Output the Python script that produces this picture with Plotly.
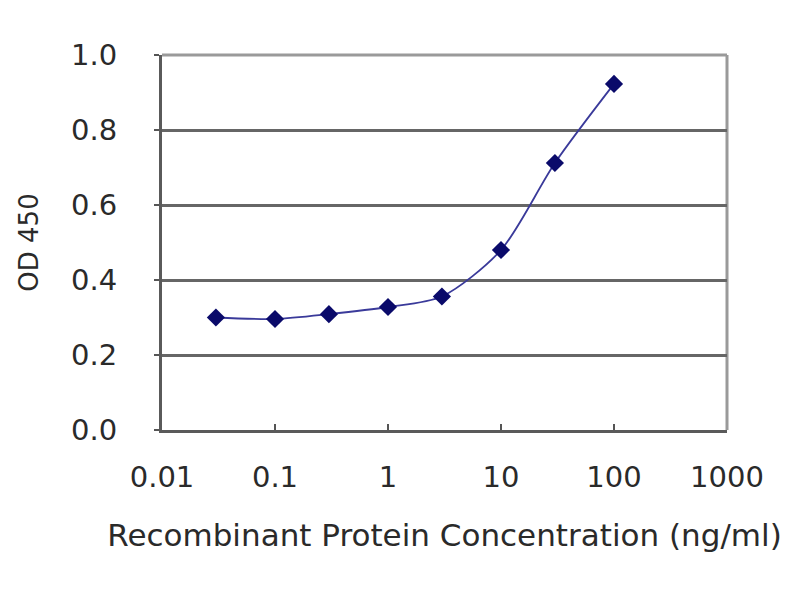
import plotly.graph_objects as go

concentration = [0.03, 0.1, 0.3, 1, 3, 10, 30, 100]
od450 = [0.300, 0.296, 0.309, 0.328, 0.356, 0.480, 0.712, 0.923]
x_tick_vals = [0.01, 0.1, 1, 10, 100, 1000]
x_tick_text = ["0.01", "0.1", "1", "10", "100", "1000"]
y_tick_vals = [0.0, 0.2, 0.4, 0.6, 0.8, 1.0]
y_tick_text = ["0.0", "0.2", "0.4", "0.6", "0.8", "1.0"]

FONT = "DejaVu Sans"
TXT = "#2a2a2a"

fig = go.Figure()
fig.add_trace(go.Scatter(
    x=concentration, y=od450, mode="lines+markers",
    line=dict(color="#3a3a9a", width=1.8, shape="spline", smoothing=0.8),
    marker=dict(symbol="diamond", size=14, color="#0a0a6a"),
    showlegend=False, cliponaxis=False,
))

fig.update_layout(
    width=792, height=592,
    margin=dict(l=154, r=73, t=47, b=170),
    paper_bgcolor="white", plot_bgcolor="white",
    font=dict(family=FONT, color=TXT),
    xaxis=dict(
        type="log", range=[-2, 3],
        tickvals=x_tick_vals, ticktext=x_tick_text,
        tickfont=dict(size=29, color=TXT, family=FONT),
        ticks="inside", ticklen=6, tickwidth=2, tickcolor="#555555",
        ticklabelstandoff=19,
        showline=True, linecolor="#5a5a5a", linewidth=3,
        showgrid=False, zeroline=False,
        title=dict(text="Recombinant Protein Concentration (ng/ml)",
                   font=dict(size=31, color=TXT, family=FONT), standoff=32),
    ),
    yaxis=dict(
        range=[0, 1],
        tickvals=y_tick_vals, ticktext=y_tick_text,
        tickfont=dict(size=29, color=TXT, family=FONT),
        ticks="outside", ticklen=5, tickwidth=2, tickcolor="#555555",
        ticklabelstandoff=31,
        showline=True, linecolor="#5a5a5a", linewidth=3,
        showgrid=True, gridcolor="#666666", gridwidth=3,
        zeroline=False,
        title=dict(text="OD 450", font=dict(size=26, color=TXT, family=FONT), standoff=25),
    ),
    shapes=[
        dict(type="line", xref="paper", yref="paper", x0=0, x1=1, y0=1, y1=1,
             line=dict(color="#9a9a9a", width=3), layer="above"),
        dict(type="line", xref="paper", yref="paper", x0=1, x1=1, y0=0, y1=1,
             line=dict(color="#9a9a9a", width=3), layer="below"),
    ],
)

fig.write_html("out.html")
